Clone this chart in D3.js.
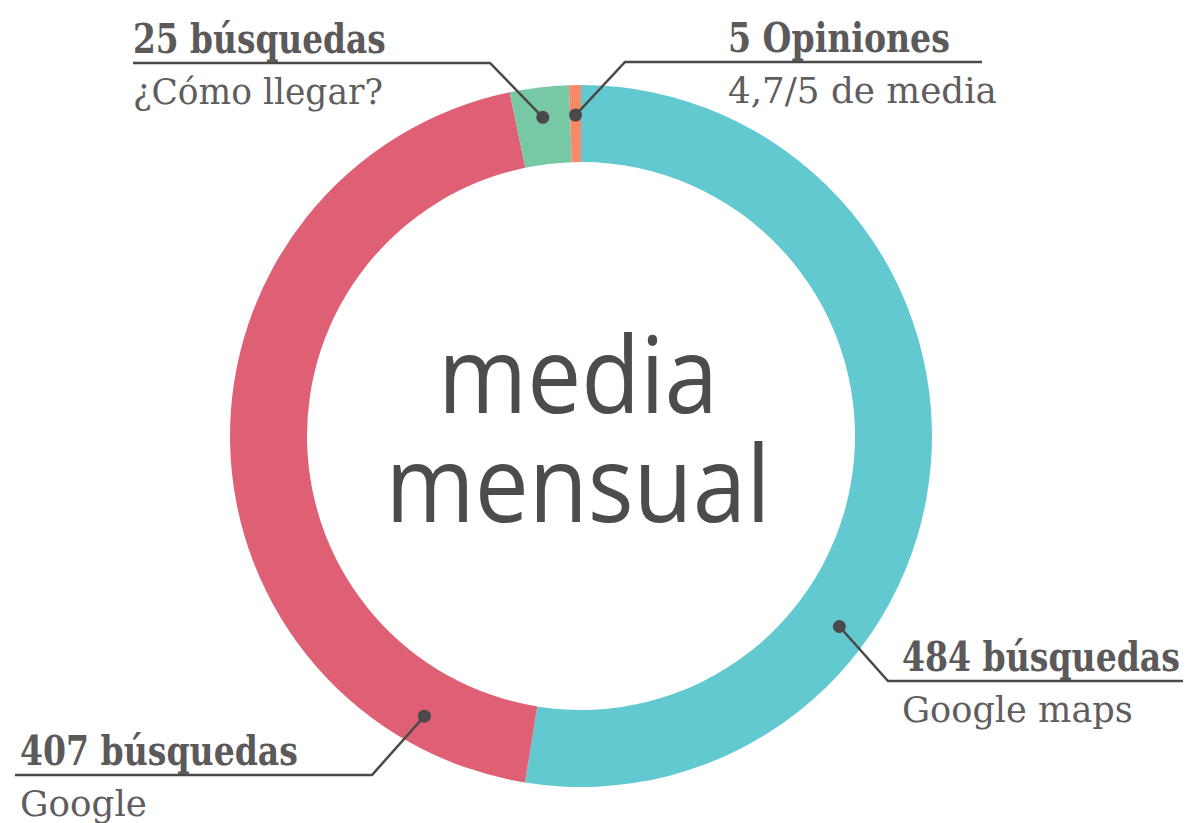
<!DOCTYPE html>
<html>
<head>
<meta charset="utf-8">
<script src="https://cdn.jsdelivr.net/npm/d3@7"></script>
<style>
  body { margin: 0; background: #fff; }
  .bold { font-family: "DejaVu Serif", serif; font-weight: bold; fill: #5b595a; }
  .sub { font-family: "DejaVu Serif", serif; fill: #5f5d5e; }
  .center { font-family: "Open Sans", sans-serif; font-weight: 500; fill: #4d4b4c; }
</style>
</head>
<body>
<script>
// monthly figures
var categories = ["Google maps", "Google", "¿Cómo llegar?", "Opiniones"];
var values = [484, 407, 25, 5];
var titles = ["484 búsquedas", "407 búsquedas", "25 búsquedas", "5 Opiniones"];
var subtitles = ["Google maps", "Google", "¿Cómo llegar?", "4,7/5 de media"];
var colors = ["#63c9d1", "#df6074", "#77c9a6", "#f68a68"];
var centerLines = ["media", "mensual"];

window.onload = drawChart;

//squeeze a text horizontally so it spans the wanted width
function fitWidth(sel, x, w){
    var natural = sel.node().getComputedTextLength();
    var s = w / natural;
    sel.attr("transform", "translate(" + x + ",0) scale(" + s + ",1) translate(" + (-x) + ",0)");
}

function drawChart(){

    var width = 1192,
        height = 823;

    var cx = 581, cy = 436,
        outerR = 351, innerR = 274, dotR = 321;

    var svg = d3.select("body")
        .append("svg")
        .attr("width", width)
        .attr("height", height);

    var g = svg.append("g")
        .attr("transform", "translate(" + cx + "," + cy + ")");

    var pie = d3.pie()
        .sort(null)
        .value(function(d){ return d; });

    var arcs = pie(values);

    var arc = d3.arc()
        .innerRadius(innerR)
        .outerRadius(outerR);

    var dotArc = d3.arc()
        .innerRadius(dotR)
        .outerRadius(dotR);

    //slices
    g.selectAll(".slice")
        .data(arcs)
        .enter()
        .append("path")
        .attr("class", "slice")
        .attr("d", arc)
        .attr("fill", function(d, i){ return colors[i]; });

    //callout layout: dot angle (null = slice centre), elbow, text anchor
    var callouts = [
        {angle: 126.4, elbowX: 888, lineY: 681, endX: 1183, textX: 902, w1: 278, w2: 231},
        {angle: 209.2, elbowX: 372, lineY: 775, endX: 15,   textX: 20,  w1: 278, w2: 127},
        {angle: null,  elbowX: 490, lineY: 63,  endX: 133,  textX: 133, w1: 253, w2: 250},
        {angle: null,  elbowX: 625, lineY: 62,  endX: 982,  textX: 728, w1: 222, w2: 269}
    ];

    var deg = Math.PI / 180;

    arcs.forEach(function(d, i){
        var c = callouts[i];
        var p;
        if (c.angle === null) {
            p = dotArc.centroid(d);
        } else {
            p = dotArc.centroid({startAngle: c.angle * deg, endAngle: c.angle * deg});
        }
        var dx = cx + p[0], dy = cy + p[1];

        svg.append("polyline")
            .attr("points", [[dx, dy], [c.elbowX, c.lineY], [c.endX, c.lineY]].join(" "))
            .attr("fill", "none")
            .attr("stroke", "#4a4849")
            .attr("stroke-width", 2.5);

        svg.append("circle")
            .attr("cx", dx)
            .attr("cy", dy)
            .attr("r", 6.5)
            .attr("fill", "#4a4849");

        var t1 = svg.append("text")
            .attr("class", "bold")
            .attr("x", c.textX)
            .attr("y", c.lineY - 10)
            .attr("font-size", 41)
            .text(titles[i]);
        fitWidth(t1, c.textX, c.w1);

        var t2 = svg.append("text")
            .attr("class", "sub")
            .attr("x", c.textX)
            .attr("y", c.lineY + 41)
            .attr("font-size", 35)
            .text(subtitles[i]);
        fitWidth(t2, c.textX, c.w2);
    });

    //centre text
    var centerWidths = [280, 385];
    svg.selectAll(".center")
        .data(centerLines)
        .enter()
        .append("text")
        .attr("class", "center")
        .attr("x", cx - 3)
        .attr("y", function(d, i){ return 413 + i * 109; })
        .attr("text-anchor", "middle")
        .attr("font-size", 106)
        .text(function(d){ return d; })
        .each(function(d, i){
            var t = d3.select(this);
            var s = centerWidths[i] / this.getComputedTextLength();
            t.attr("transform", "translate(" + (cx - 3) + ",0) scale(" + s + ",1) translate(" + (-(cx - 3)) + ",0)");
        });
}
</script>
</body>
</html>
